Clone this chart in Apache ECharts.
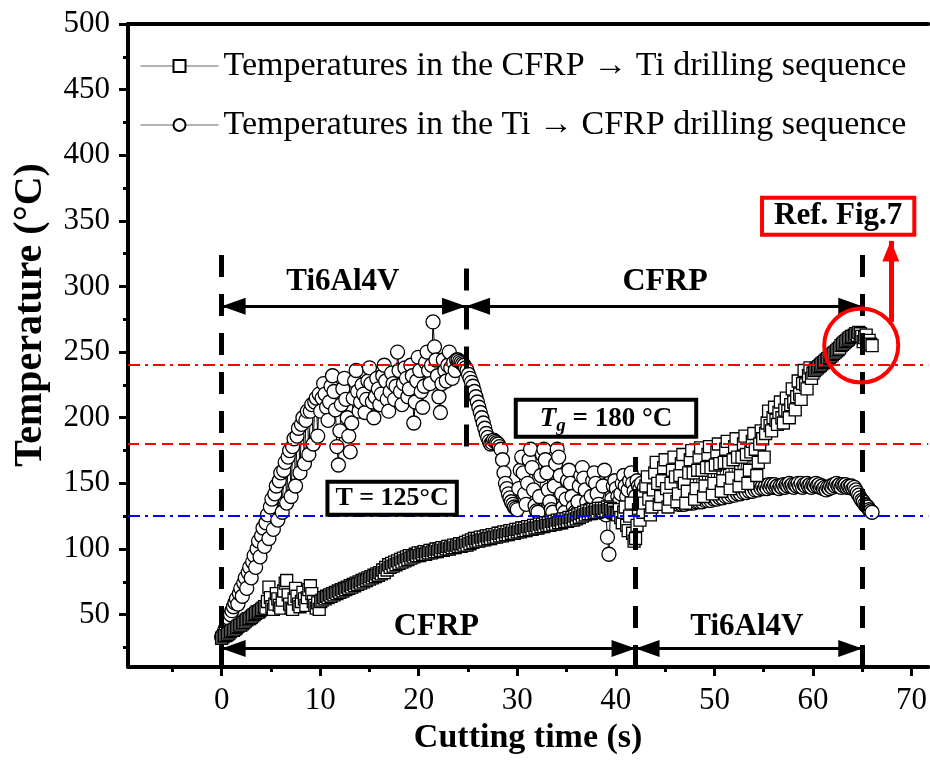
<!DOCTYPE html>
<html>
<head>
<meta charset="utf-8">
<script src="https://cdn.jsdelivr.net/npm/echarts@6/dist/echarts.min.js"></script>
<style>
  html, body { margin: 0; padding: 0; background: #fff; }
  #chart { width: 930px; height: 760px; }
</style>
</head>
<body>
<div id="chart"></div>
<script>
// Thermocouple log, one reading every 0.15 s
const SAMPLE_INTERVAL = 0.15;

// CFRP -> Ti drilling sequence (°C)
const tempCfrpToTi = [
  // 0 - 4.35 s
  32, 33, 34, 34, 35, 36, 37, 38, 38, 39,
  40, 41, 42, 42, 43, 44, 45, 46, 47, 47,
  48, 49, 50, 51, 52, 52, 53, 54, 55, 56,
  // 4.5 - 10.05 s
  55, 60, 71, 63, 56, 54, 58, 66, 62, 57,
  55, 61, 68, 74, 76, 65, 58, 55, 54, 62,
  70, 64, 58, 56, 60, 67, 62, 57, 63, 69,
  72, 66, 60, 57, 55, 59, 54, 60,
  // 10.2 - 40.05 s
  61, 63, 62, 64, 63, 65, 64, 66, 65, 67,
  66, 68, 67, 69, 68, 70, 69, 71, 70, 72,
  71, 73, 72, 74, 73, 75, 74, 76, 75, 77,
  76, 78, 77, 79, 78, 80, 79, 81, 80, 82,
  81, 84, 82, 86, 84, 88, 86, 89, 87, 90,
  88, 91, 89, 92, 90, 93, 91, 94, 92, 95,
  93, 95, 94, 96, 95, 97, 95, 97, 96, 98,
  96, 98, 97, 99, 97, 99, 98, 100, 98, 100,
  99, 101, 99, 101, 100, 102, 100, 102, 101, 103,
  101, 103, 102, 104, 102, 104, 103, 105, 103, 106,
  104, 107, 105, 108, 106, 108, 106, 109, 107, 109,
  107, 110, 108, 110, 108, 111, 109, 111, 109, 112,
  110, 112, 110, 113, 111, 113, 111, 114, 112, 114,
  112, 115, 113, 115, 113, 116, 114, 116, 114, 117,
  115, 117, 115, 118, 116, 118, 116, 119, 117, 119,
  117, 120, 118, 120, 118, 121, 119, 121, 119, 122,
  120, 122, 120, 123, 121, 123, 121, 124, 122, 124,
  122, 125, 123, 126, 124, 127, 125, 128, 126, 129,
  127, 129, 127, 130, 128, 130, 128, 131, 129, 131,
  129, 131, 129, 132, 130, 131, 129, 130, 128, 127,
  // 40.2 - 42.45 s
  126, 130, 124, 120, 128, 132, 118, 114, 125, 135,
  112, 106, 108, 118, 130, 122,
  // 42.6 - 55.05 s
  140, 128, 135, 148, 155, 138, 126, 132, 145, 158,
  166, 150, 134, 140, 152, 162, 168, 146, 132, 138,
  150, 160, 170, 155, 136, 142, 156, 165, 172, 150,
  135, 144, 158, 168, 175, 158, 138, 146, 160, 170,
  177, 160, 140, 148, 162, 172, 178, 162, 142, 150,
  164, 174, 180, 165, 144, 152, 166, 176, 182, 166,
  146, 154, 168, 178, 184, 170, 148, 156, 170, 180,
  186, 172, 150, 160, 174, 182, 188, 176, 156, 166,
  180, 190, 184, 170,
  // 55.2 - 59.85 s
  188, 196, 205, 194, 190, 200, 208, 198, 195, 204,
  212, 200, 196, 206, 215, 205, 200, 210, 222, 212,
  206, 216, 228, 218, 214, 226, 236, 225, 222, 232,
  238, 230,
  // 60.0 - 66.0 s
  234, 236, 237, 238, 239, 240, 241, 242, 243, 244,
  245, 246, 247, 248, 249, 250, 251, 252, 253, 255,
  256, 257, 258, 259, 260, 261, 262, 262, 263, 264,
  263, 265, 264, 262, 258, 261, 263, 257, 259, 256,
  255
];

// Ti -> CFRP drilling sequence (°C)
const tempTiToCfrp = [
  // 0 - 9.9 s
  33, 35, 38, 41, 44, 47, 50, 53, 56, 59,
  62, 58, 66, 70, 64, 74, 78, 70, 82, 86,
  78, 90, 95, 86, 100, 106, 94, 110, 116, 102,
  120, 126, 108, 132, 138, 115, 142, 148, 122, 152,
  158, 128, 160, 166, 135, 170, 175, 140, 178, 184,
  148, 186, 192, 158, 195, 200, 165, 198, 205, 172,
  205, 210, 180, 212, 215, 186, 218,
  // 10.05 - 23.85 s
  205, 215, 226, 218, 208, 198, 212, 224, 232, 220,
  206, 178, 164, 190, 210, 222, 230, 214, 200, 186,
  174, 196, 215, 228, 236, 220, 205, 212, 225, 218,
  204, 214, 228, 238, 226, 212, 200, 216, 230, 222,
  210, 218, 232, 240, 228, 214, 205, 220, 234, 226,
  214, 224, 250, 236, 220, 210, 226, 238, 230, 216,
  222, 240, 232, 196, 212, 228, 246, 236, 220, 208,
  224, 242, 250, 236, 226, 240, 273, 254, 244, 232,
  216, 204, 226, 244, 236, 228, 240, 250, 238, 230,
  242, 236, 244,
  // 24.0 - 28.35 s
  244, 243, 242, 241, 240, 238, 236, 233, 230, 227,
  224, 220, 216, 212, 208, 204, 200, 196, 192, 188,
  185, 182, 180, 181, 183, 182, 181, 180, 178, 176,
  // 28.5 - 42.0 s
  168, 158, 150, 146, 142, 139, 136, 134, 132, 131,
  130, 146, 160, 170, 158, 142, 134, 150, 168, 176,
  162, 145, 133, 129, 128, 140, 156, 172, 176, 168,
  158, 145, 136, 130, 128, 148, 165, 176, 170, 156,
  142, 132, 128, 138, 152, 160, 150, 140, 132, 128,
  127, 136, 148, 156, 162, 154, 145, 136, 130, 128,
  140, 152, 158, 150, 142, 134, 130, 128, 148, 160,
  126, 109, 96, 128, 138, 148, 152, 146, 140, 136,
  142, 150, 156, 148, 140, 145, 152, 158, 150, 144,
  140,
  // 42.15 - 64.35 s
  152, 148, 146, 150, 144, 147, 143, 146, 141, 145,
  142, 145, 140, 143, 139, 142, 138, 141, 137, 140,
  137, 139, 136, 139, 135, 138, 135, 137, 134, 137,
  134, 137, 134, 136, 135, 137, 135, 138, 135, 137,
  136, 138, 136, 139, 136, 139, 137, 139, 137, 140,
  137, 140, 138, 140, 138, 141, 139, 141, 139, 142,
  140, 142, 140, 143, 141, 143, 141, 144, 142, 144,
  142, 145, 143, 145, 143, 146, 144, 146, 144, 147,
  145, 147, 145, 148, 146, 148, 146, 148, 146, 149,
  147, 149, 147, 149, 147, 148, 146, 148, 147, 149,
  147, 149, 148, 150, 148, 149, 147, 149, 148, 150,
  148, 150, 147, 149, 148, 150, 148, 149, 147, 149,
  148, 150, 148, 149, 147, 148, 146, 147, 145, 147,
  146, 148, 147, 149, 148, 150, 148, 149, 147, 149,
  148, 149, 147, 148, 147, 148, 146, 147, 145,
  // 64.5 - 66.0 s
  143, 141, 139, 137, 136, 134, 133, 132, 130, 129,
  128
];

const seriesNames = [
  'Temperatures in the CFRP \u2192 Ti drilling sequence',
  'Temperatures in the Ti \u2192 CFRP drilling sequence'
];

// Axis ticks
const xMajorTicks = [0, 10, 20, 30, 40, 50, 60, 70];
const xMinorTicks = [-5, 5, 15, 25, 35, 45, 55, 65];
const yMajorTicks = [50, 100, 150, 200, 250, 300, 350, 400, 450, 500];
const yMinorTicks = [25, 75, 125, 175, 225, 275, 325, 375, 425, 475];

// Material phases (s)
const phasesTiToCfrp = [0, 24.8, 65];   // Ti6Al4V, then CFRP
const phasesCfrpToTi = [0, 42, 65];     // CFRP, then Ti6Al4V

// Reference temperatures (°C)
const tempThresholdLow = 125;
const tempGlassTransition = 180;
const tempPeakLevel = 240;

// End-of-drilling point referenced by the callout
const calloutPoint = [64.9, 255];

const FONT = "'Liberation Serif', 'Times New Roman', serif";
const time = tempCfrpToTi.map((_, i) => Math.round(i * SAMPLE_INTERVAL * 100) / 100);
const toPairs = vals => vals.map((v, i) => [time[i], v]);

const X_MIN = -9.5, X_MAX = 71.7, Y_MIN = 10, Y_MAX = 500;

const boldText = (size) => ({
  fontFamily: FONT, fontWeight: 'bold', fontSize: size, color: '#000'
});

function textMark(coord, text, size) {
  return {
    coord, value: text, symbol: 'circle', symbolSize: 1,
    itemStyle: { color: 'rgba(0,0,0,0)' },
    label: Object.assign({ show: true, position: 'inside', formatter: text }, boldText(size))
  };
}

function boxedMark(coord, label) {
  return {
    coord, symbol: 'circle', symbolSize: 1,
    itemStyle: { color: 'rgba(0,0,0,0)' },
    label: Object.assign({ show: true, position: 'inside', backgroundColor: '#fff' }, label)
  };
}

const dashBlack = { color: '#000', width: 5, type: [22, 17] };
const arrowStyle = { color: '#000', width: 3, type: 'solid' };

function arrow(x0, x1, y) {
  return [
    { coord: [x0, y], symbol: 'triangle', symbolSize: [17, 24], symbolOffset: [0, 12], lineStyle: arrowStyle },
    { coord: [x1, y], symbol: 'triangle', symbolSize: [17, 24], symbolOffset: [0, 12] }
  ];
}

const markerStyle = { color: '#fff', borderColor: '#000', borderWidth: 1.3 };

const option = {
  animation: false,
  backgroundColor: '#fff',
  grid: { left: 128, right: 0, top: 24, bottom: 90 },
  legend: {
    data: seriesNames,
    orient: 'vertical',
    left: 140,
    top: 48,
    padding: 0,
    itemWidth: 78,
    itemHeight: 15,
    itemGap: 23,
    lineStyle: { color: '#666', width: 1 },
    textStyle: { fontFamily: FONT, fontSize: 34, color: '#000', lineHeight: 36 }
  },
  xAxis: [
    {
      type: 'value', min: X_MIN, max: X_MAX, position: 'bottom',
      axisLine: { onZero: false, lineStyle: { color: '#000', width: 4 } },
      axisTick: { show: true, customValues: xMajorTicks, length: 9, lineStyle: { color: '#000', width: 3 } },
      axisLabel: { customValues: xMajorTicks, fontFamily: FONT, fontSize: 31, color: '#000', margin: 18 },
      splitLine: { show: false },
      name: 'Cutting time (s)', nameLocation: 'middle', nameGap: 53,
      nameTextStyle: boldText(34)
    },
    {
      type: 'value', min: X_MIN, max: X_MAX, position: 'bottom',
      axisLine: { show: false, onZero: false },
      axisTick: { show: true, customValues: xMinorTicks, length: 5, lineStyle: { color: '#000', width: 3 } },
      axisLabel: { show: false },
      splitLine: { show: false }
    },
    {
      type: 'value', min: X_MIN, max: X_MAX, position: 'top',
      axisLine: { onZero: false, lineStyle: { color: '#000', width: 4 } },
      axisTick: { show: false }, axisLabel: { show: false }, splitLine: { show: false }
    }
  ],
  yAxis: [
    {
      type: 'value', min: Y_MIN, max: Y_MAX, position: 'left',
      axisLine: { onZero: false, lineStyle: { color: '#000', width: 4 } },
      axisTick: { show: true, customValues: yMajorTicks, length: 9, lineStyle: { color: '#000', width: 3 } },
      axisLabel: { customValues: yMajorTicks, fontFamily: FONT, fontSize: 31, color: '#000', margin: 18 },
      splitLine: { show: false }
    },
    {
      type: 'value', min: Y_MIN, max: Y_MAX, position: 'left',
      axisLine: { show: false, onZero: false },
      axisTick: { show: true, customValues: yMinorTicks, length: 5, lineStyle: { color: '#000', width: 3 } },
      axisLabel: { show: false },
      splitLine: { show: false }
    }
  ],
  graphic: [{
    type: 'text', x: 31, y: 315, rotation: Math.PI / 2,
    style: {
      text: 'Temperature (\u00B0C)', fontFamily: FONT, fontWeight: 'bold', fontSize: 40,
      fill: '#000', textAlign: 'center', textVerticalAlign: 'middle'
    }
  }],
  series: [
    {
      name: seriesNames[1], type: 'line', xAxisIndex: 0, yAxisIndex: 0,
      data: toPairs(tempTiToCfrp),
      symbol: 'circle', symbolSize: 14, showSymbol: true,
      itemStyle: markerStyle,
      lineStyle: { color: '#000', width: 1 },
      emphasis: { disabled: true }, silent: true
    },
    {
      name: seriesNames[0], type: 'line', xAxisIndex: 0, yAxisIndex: 0,
      data: toPairs(tempCfrpToTi),
      symbol: 'rect', symbolSize: 12, showSymbol: true,
      itemStyle: markerStyle,
      lineStyle: { color: '#000', width: 1 },
      emphasis: { disabled: true }, silent: true
    },
    {
      name: 'annotations', type: 'line', xAxisIndex: 0, yAxisIndex: 0, data: [], z: 5, silent: true,
      markLine: {
        silent: true, animation: false, symbol: 'none',
        label: { show: false },
        emphasis: { disabled: true },
        data: [
          { yAxis: tempPeakLevel, lineStyle: { color: '#ff0000', width: 2, type: [12, 5, 3, 5] } },
          { yAxis: tempGlassTransition, lineStyle: { color: '#ff0000', width: 2, type: [11, 6] } },
          { yAxis: tempThresholdLow, lineStyle: { color: '#0000ff', width: 2, type: [12, 5, 3, 5] } },
          // phase boundaries
          [{ coord: [phasesTiToCfrp[0], Y_MIN], lineStyle: dashBlack }, { coord: [phasesTiToCfrp[0], 325] }],
          [{ coord: [phasesTiToCfrp[1], 178], lineStyle: dashBlack }, { coord: [phasesTiToCfrp[1], 325] }],
          [{ coord: [phasesCfrpToTi[1], Y_MIN], lineStyle: dashBlack }, { coord: [phasesCfrpToTi[1], 170] }],
          [{ coord: [phasesTiToCfrp[2], Y_MIN], lineStyle: dashBlack }, { coord: [phasesTiToCfrp[2], 325] }],
          // phase spans
          arrow(phasesTiToCfrp[0], phasesTiToCfrp[1], 285),
          arrow(phasesTiToCfrp[1], phasesTiToCfrp[2], 285),
          arrow(phasesCfrpToTi[0], phasesCfrpToTi[1], 24.2),
          arrow(phasesCfrpToTi[1], phasesCfrpToTi[2], 24.2),
          // callout pointer
          [
            { coord: [67.9, 273], symbol: 'none', lineStyle: { color: '#ff0000', width: 5, type: 'solid' } },
            { coord: [67.9, 334.7], symbol: 'triangle', symbolSize: [17, 21], symbolOffset: [0, 10] }
          ]
        ]
      },
      markPoint: {
        silent: true, animation: false,
        data: [
          textMark([12.3, 303.6], 'Ti6Al4V', 31),
          textMark([45.0, 303.6], 'CFRP', 32),
          textMark([21.8, 40.5], 'CFRP', 32),
          textMark([53.3, 40.5], 'Ti6Al4V', 31),
          boxedMark([17.3, 138.7], Object.assign({
            formatter: 'T = 125\u00B0C', borderColor: '#000', borderWidth: 4, padding: [2, 6, 1, 6]
          }, boldText(26))),
          boxedMark([39.0, 199.7], {
            formatter: '{t|T}{g|g}{n| = 180 \u00B0C}',
            borderColor: '#000', borderWidth: 4, padding: [2, 22, 1, 22],
            rich: {
              t: { fontFamily: FONT, fontWeight: 'bold', fontStyle: 'italic', fontSize: 27, color: '#000', lineHeight: 30 },
              g: { fontFamily: FONT, fontWeight: 'bold', fontStyle: 'italic', fontSize: 19, color: '#000', lineHeight: 19, padding: [15, 0, 0, 0] },
              n: { fontFamily: FONT, fontWeight: 'bold', fontSize: 27, color: '#000', lineHeight: 30 }
            }
          }),
          boxedMark([62.56, 353.6], Object.assign({
            formatter: 'Ref. Fig.7', borderColor: '#ff0000', borderWidth: 4, padding: [2, 10, 0, 10]
          }, boldText(31))),
          {
            coord: calloutPoint, symbol: 'circle', symbolSize: 74,
            itemStyle: { color: 'rgba(0,0,0,0)', borderColor: '#ff0000', borderWidth: 4 },
            label: { show: false }
          }
        ]
      }
    }
  ]
};

const chart = echarts.init(document.getElementById('chart'));
chart.setOption(option);
</script>
</body>
</html>
